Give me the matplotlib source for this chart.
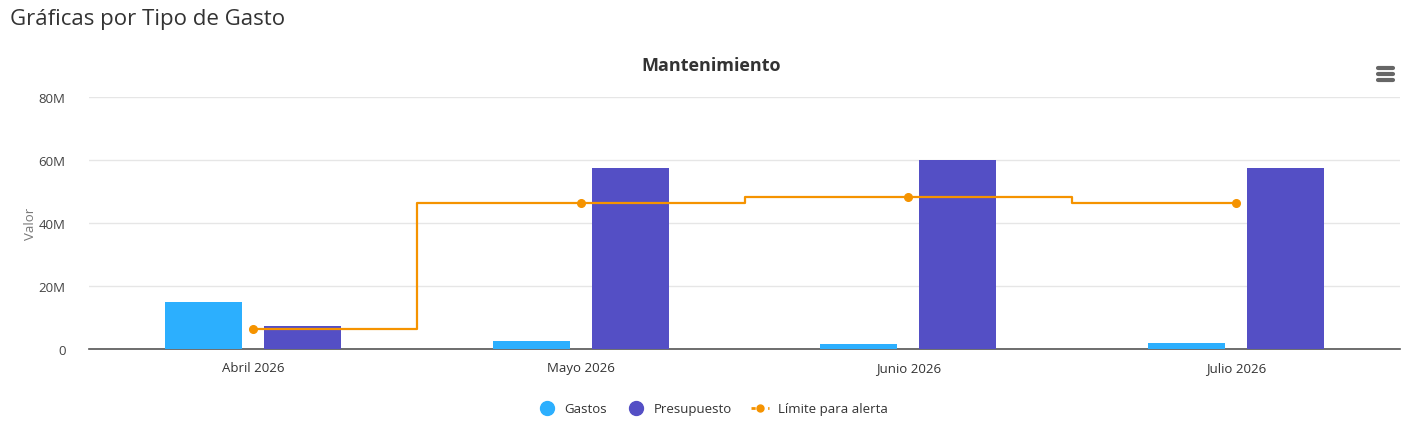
import numpy as np
import matplotlib.pyplot as plt
from matplotlib.lines import Line2D

plt.rcParams['font.family'] = ['Open Sans', 'DejaVu Sans']

meses = ['Abril 2026', 'Mayo 2026', 'Junio 2026', 'Julio 2026']
gastos = [14.9e6, 2.5e6, 1.6e6, 1.9e6]
presupuesto = [7.3e6, 57.5e6, 60.0e6, 57.5e6]
limite = [6.3e6, 46.2e6, 48.3e6, 46.2e6]

c_gastos = '#2caffe'
c_presu = '#544fc5'
c_lim = '#f59300'

fig = plt.figure(figsize=(14.2, 4.39), dpi=100)
ax = fig.add_axes([89/1420, 1-350/439, (1400-89)/1420, 252/439])

x = np.arange(len(meses))
ax.bar(x - 0.151, gastos, width=0.235, color=c_gastos, zorder=3)
ax.bar(x + 0.151, presupuesto, width=0.235, color=c_presu, zorder=3)
ax.plot(x, limite, color=c_lim, lw=1.6, drawstyle='steps-mid', zorder=4)
ax.plot(x, limite, 'o', color=c_lim, ms=5.5, zorder=5)

ax.set_xlim(-0.5, 3.5)
ax.set_ylim(0, 80e6)
ax.set_yticks([0, 20e6, 40e6, 60e6, 80e6])
ax.set_yticklabels(['0', '20M', '40M', '60M', '80M'])
ax.set_xticks(x)
ax.set_xticklabels(meses)
ax.grid(axis='y', color='#e6e6e6', lw=1, zorder=0)
for s in ['top', 'right', 'left']:
    ax.spines[s].set_visible(False)
ax.spines['bottom'].set_color('#555555')
ax.spines['bottom'].set_linewidth(1.2)
ax.tick_params(axis='y', length=0, pad=17, labelsize=9.5, labelcolor='#444444')
ax.tick_params(axis='x', length=0, pad=9, labelsize=9.5, labelcolor='#333333')
ax.set_ylabel('Valor', color='#777777', fontsize=9.5)
ax.yaxis.set_label_coords(-0.04, 0.5)

fig.text(10/1420, 1-20/439, 'Gráficas por Tipo de Gasto', fontsize=16,
         color='#333333', va='center', ha='left')
fig.text(711/1420, 1-66/439, 'Mantenimiento', fontsize=13, fontweight='bold',
         color='#333333', va='center', ha='center')

# menu icon
for yy in [69, 75, 81]:
    fig.add_artist(Line2D([1378/1420, 1393/1420], [1-yy/439, 1-yy/439],
                          color='#666666', lw=3, solid_capstyle='round'))

handles = [
    Line2D([], [], marker='o', ls='none', color=c_gastos, ms=10),
    Line2D([], [], marker='o', ls='none', color=c_presu, ms=10),
    Line2D([], [], marker='o', ls=(0, (1.5, 1.5)), color=c_lim, ms=5, lw=2),
]
fig.legend(handles, ['Gastos', 'Presupuesto', 'Límite para alerta'],
           loc='center', bbox_to_anchor=(713/1420, 1-410/439), ncol=3,
           frameon=False, fontsize=9.5, labelcolor='#333333',
           handlelength=1.3, columnspacing=1.5, handletextpad=0.7)

fig.savefig('out.png', dpi=100)
